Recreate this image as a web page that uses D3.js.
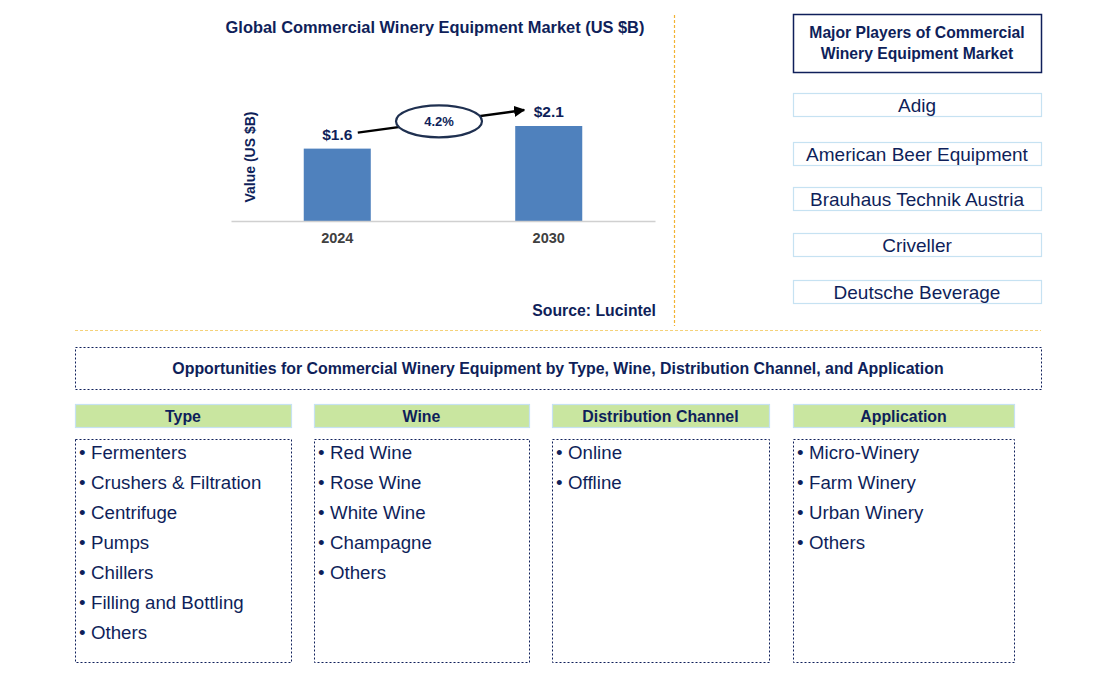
<!DOCTYPE html>
<html><head><meta charset="utf-8">
<script src="https://cdn.jsdelivr.net/npm/d3@7"></script>
<style>body{margin:0;background:#fff;font-family:"Liberation Sans",Arial,sans-serif;}</style>
</head><body>
<svg id="c" width="1106" height="683"></svg>
<script>
const years = ["2024", "2030"];
const values = [1.6, 2.1];
const valueLabels = ["$1.6", "$2.1"];
const cagr = "4.2%";
const chartTitle = "Global Commercial Winery Equipment Market (US $B)";
const yTitle = "Value (US $B)";
const source = "Source: Lucintel";
const playersTitle = ["Major Players of Commercial", "Winery Equipment Market"];
const players = ["Adig", "American Beer Equipment", "Brauhaus Technik Austria", "Criveller", "Deutsche Beverage"];
const oppTitle = "Opportunities for Commercial Winery Equipment by Type, Wine, Distribution Channel, and Application";
const segNames = ["Type", "Wine", "Distribution Channel", "Application"];
const segType = ["Fermenters", "Crushers & Filtration", "Centrifuge", "Pumps", "Chillers", "Filling and Bottling", "Others"];
const segWine = ["Red Wine", "Rose Wine", "White Wine", "Champagne", "Others"];
const segDist = ["Online", "Offline"];
const segApp = ["Micro-Winery", "Farm Winery", "Urban Winery", "Others"];
const segItems = [segType, segWine, segDist, segApp];

const navy = "#0f1f5a";
const svg = d3.select("#c");

// ---- Chart ----
const x = d3.scaleBand().domain(years).range([231, 655]).paddingInner(0.683).paddingOuter(0.344);
const y = d3.scaleLinear().domain([0, 2.1]).range([221, 126]);

svg.append("text").attr("x", 435).attr("y", 33).attr("text-anchor", "middle")
  .attr("font-size", 16.4).attr("font-weight", "bold").attr("fill", navy).text(chartTitle);

svg.selectAll("rect.bar").data(values).enter().append("rect").attr("class", "bar")
  .attr("x", (d, i) => x(years[i])).attr("width", x.bandwidth())
  .attr("y", d => y(d)).attr("height", d => y(0) - y(d)).attr("fill", "#4f81bd");

const xAxis = svg.append("g").attr("transform", "translate(0,221)")
  .call(d3.axisBottom(x).tickSize(0).tickPadding(12));
xAxis.select(".domain").attr("stroke", "#d0d0d0").attr("stroke-width", 1.5);
xAxis.selectAll("text").attr("font-size", 14.5).attr("font-weight", "bold").attr("fill", "#404040")
  .attr("font-family", "Liberation Sans, Arial, sans-serif");

svg.selectAll("text.vl").data(values).enter().append("text").attr("class", "vl")
  .attr("x", (d, i) => x(years[i]) + x.bandwidth() / 2)
  .attr("y", d => y(d) - 9).attr("text-anchor", "middle")
  .attr("font-size", 15.5).attr("font-weight", "bold").attr("fill", navy)
  .text((d, i) => valueLabels[i]);

svg.append("text").attr("transform", "translate(255,157) rotate(-90)").attr("text-anchor", "middle")
  .attr("font-size", 14).attr("font-weight", "bold").attr("fill", navy).text(yTitle);

// CAGR arrow
const defs = svg.append("defs");
defs.append("marker").attr("id", "ah").attr("viewBox", "0 0 10 10").attr("refX", 9).attr("refY", 5)
  .attr("markerWidth", 4.5).attr("markerHeight", 4.5).attr("orient", "auto")
  .append("path").attr("d", "M0,0 L10,5 L0,10 z").attr("fill", "#000");
const ax0 = x(years[0]) + x.bandwidth() - 13, ay0 = y(values[0]) - 16;
const ax1 = x(years[1]) + 9, ay1 = y(values[1]) - 16;
svg.append("line").attr("x1", ax0).attr("y1", ay0).attr("x2", ax1).attr("y2", ay1)
  .attr("stroke", "#000").attr("stroke-width", 2.5).attr("marker-end", "url(#ah)");
const ecx = (ax0 + ax1) / 2 - 2, ecy = (ay0 + ay1) / 2;
svg.append("ellipse").attr("cx", ecx).attr("cy", ecy).attr("rx", 43).attr("ry", 16)
  .attr("fill", "#fff").attr("stroke", "#1f3050").attr("stroke-width", 2.2);
svg.append("text").attr("x", ecx).attr("y", ecy + 4.5).attr("text-anchor", "middle")
  .attr("font-size", 13).attr("font-weight", "bold").attr("fill", navy).text(cagr);

svg.append("text").attr("x", 656).attr("y", 316).attr("text-anchor", "end")
  .attr("font-size", 15.8).attr("font-weight", "bold").attr("fill", navy).text(source);

// dividers
svg.append("line").attr("x1", 674.5).attr("y1", 15).attr("x2", 674.5).attr("y2", 326)
  .attr("stroke", "#f2b233").attr("stroke-width", 1.2).attr("stroke-dasharray", "3,2");
svg.append("line").attr("x1", 75).attr("y1", 330.5).attr("x2", 1041).attr("y2", 330.5)
  .attr("stroke", "#f5d27a").attr("stroke-width", 1.2).attr("stroke-dasharray", "3,2");

// ---- Players ----
svg.append("rect").attr("x", 793.5).attr("y", 14.5).attr("width", 248).attr("height", 58)
  .attr("fill", "#fff").attr("stroke", navy).attr("stroke-width", 1.5);
playersTitle.forEach((t, i) => svg.append("text").attr("x", 917).attr("y", 38 + i * 21)
  .attr("text-anchor", "middle").attr("font-size", 15.7).attr("font-weight", "bold").attr("fill", navy).text(t));
const pTops = [93, 142, 187, 233, 280];
players.forEach((p, i) => {
  svg.append("rect").attr("x", 793.5).attr("y", pTops[i] + 0.5).attr("width", 248).attr("height", 23)
    .attr("fill", "#fff").attr("stroke", "#c6e2f2").attr("stroke-width", 1.2);
  svg.append("text").attr("x", 917).attr("y", pTops[i] + 18.5).attr("text-anchor", "middle")
    .attr("font-size", 19).attr("fill", navy).text(p);
});

// ---- Opportunities ----
svg.append("rect").attr("x", 75.5).attr("y", 347.5).attr("width", 966).attr("height", 42)
  .attr("fill", "none").attr("stroke", navy).attr("stroke-width", 1).attr("stroke-dasharray", "2,2");
svg.append("text").attr("x", 558).attr("y", 374).attr("text-anchor", "middle")
  .attr("font-size", 15.9).attr("font-weight", "bold").attr("fill", navy).text(oppTitle);

const colX = [75, 314, 552, 793];
const colW = [216, 215, 217, 221];
segNames.forEach((n, i) => {
  svg.append("rect").attr("x", colX[i] + 0.5).attr("y", 404.5).attr("width", colW[i]).attr("height", 23)
    .attr("fill", "#c9e6a0").attr("stroke", "#c6e2f2").attr("stroke-width", 1.2);
  svg.append("text").attr("x", colX[i] + colW[i] / 2).attr("y", 421.5).attr("text-anchor", "middle")
    .attr("font-size", 15.9).attr("font-weight", "bold").attr("fill", navy).text(n);
  svg.append("rect").attr("x", colX[i] + 0.5).attr("y", 439.5).attr("width", colW[i]).attr("height", 223)
    .attr("fill", "none").attr("stroke", navy).attr("stroke-width", 1).attr("stroke-dasharray", "2,2");
  segItems[i].forEach((it, j) => {
    const t = svg.append("text").attr("x", colX[i] + 4).attr("y", 459 + j * 30)
      .attr("font-size", 18.7).attr("fill", navy);
    t.append("tspan").text("•");
    t.append("tspan").attr("x", colX[i] + 16).text(it);
  });
});
</script>
</body></html>
